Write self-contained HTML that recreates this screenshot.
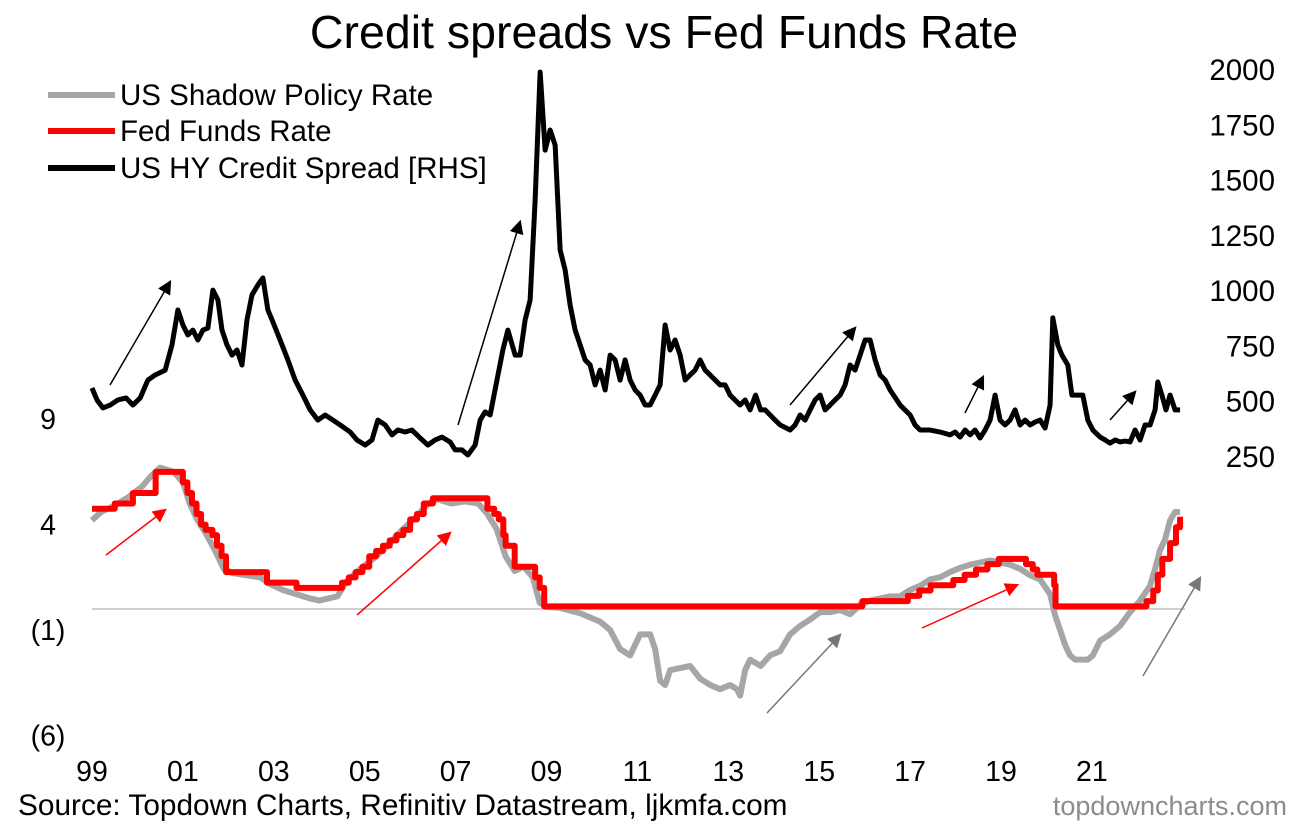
<!DOCTYPE html>
<html><head><meta charset="utf-8"><style>
body{margin:0;background:#fff;}
svg text{font-family:"Liberation Sans",Arial,sans-serif;}
</style></head><body>
<svg id="chart" width="1302" height="833" viewBox="0 0 1302 833" xmlns="http://www.w3.org/2000/svg">
<defs>
<marker id="ab" markerWidth="14" markerHeight="14" refX="10" refY="6" orient="auto" markerUnits="userSpaceOnUse" viewBox="0 0 12 12"><path d="M0,0L12,6L0,12z" fill="#000"/></marker>
<marker id="ar" markerWidth="14" markerHeight="14" refX="10" refY="6" orient="auto" viewBox="0 0 12 12" markerUnits="userSpaceOnUse"><path d="M0,0L12,6L0,12z" fill="#f00"/></marker>
<marker id="ag" markerWidth="14" markerHeight="14" refX="10" refY="6" orient="auto" viewBox="0 0 12 12" markerUnits="userSpaceOnUse"><path d="M0,0L12,6L0,12z" fill="#777"/></marker>
</defs>
<text x="664" y="48" font-size="46.5" text-anchor="middle">Credit spreads vs Fed Funds Rate</text>
<line x1="92" y1="609" x2="1185" y2="609" stroke="#d0d0d0" stroke-width="2"/>
<g id="left-ticks"></g><g id="right-ticks"></g><g id="x-ticks"></g>
<g id="series"></g>
<g>
<line x1="110" y1="385" x2="170" y2="282" stroke="#000" stroke-width="1.5" marker-end="url(#ab)"/>
<line x1="458" y1="425" x2="520" y2="222" stroke="#000" stroke-width="1.5" marker-end="url(#ab)"/>
<line x1="790" y1="405" x2="855" y2="328" stroke="#000" stroke-width="1.5" marker-end="url(#ab)"/>
<line x1="965" y1="413" x2="983" y2="377" stroke="#000" stroke-width="1.5" marker-end="url(#ab)"/>
<line x1="1110" y1="420" x2="1135" y2="392" stroke="#000" stroke-width="1.5" marker-end="url(#ab)"/>
<line x1="106" y1="555" x2="165" y2="510" stroke="#f00" stroke-width="1.5" marker-end="url(#ar)"/>
<line x1="357" y1="615" x2="450" y2="533" stroke="#f00" stroke-width="1.5" marker-end="url(#ar)"/>
<line x1="922" y1="628" x2="1017" y2="585" stroke="#f00" stroke-width="1.5" marker-end="url(#ar)"/>
<line x1="767" y1="713" x2="840" y2="635" stroke="#777" stroke-width="1.5" marker-end="url(#ag)"/>
<line x1="1143" y1="676" x2="1200" y2="578" stroke="#777" stroke-width="1.5" marker-end="url(#ag)"/>
</g>
<g>
<g><line x1="48" y1="95" x2="115" y2="95" stroke="#a6a6a6" stroke-width="6"/><text x="120" y="105" font-size="29.5">US Shadow Policy Rate</text></g>
<g><line x1="48" y1="131" x2="115" y2="131" stroke="#f00" stroke-width="6"/><text x="120" y="141" font-size="29.5">Fed Funds Rate</text></g>
<g><line x1="48" y1="168" x2="115" y2="168" stroke="#000" stroke-width="6"/><text x="120" y="178" font-size="29.5">US HY Credit Spread [RHS]</text></g>
</g>
<text x="18" y="815" font-size="29.8">Source: Topdown Charts, Refinitiv Datastream, ljkmfa.com</text>
<text x="1287" y="815" font-size="27" fill="#8c8c8c" text-anchor="end">topdowncharts.com</text>
</svg>
<script>
const spreadDates=[1999.00,1999.11,1999.24,1999.40,1999.57,1999.75,1999.90,2000.06,2000.23,2000.39,2000.61,2000.76,2000.89,2001.00,2001.11,2001.22,2001.33,2001.44,2001.55,2001.66,2001.77,2001.86,2001.97,2002.08,2002.19,2002.30,2002.41,2002.52,2002.65,2002.76,2002.87,2002.98,2003.14,2003.31,2003.47,2003.64,2003.80,2003.97,2004.13,2004.30,2004.46,2004.68,2004.83,2005.01,2005.16,2005.29,2005.45,2005.60,2005.73,2005.89,2006.04,2006.22,2006.39,2006.55,2006.70,2006.88,2006.99,2007.14,2007.27,2007.43,2007.54,2007.65,2007.76,2007.91,2008.04,2008.15,2008.31,2008.42,2008.53,2008.64,2008.75,2008.86,2008.97,2009.08,2009.19,2009.30,2009.41,2009.52,2009.63,2009.74,2009.85,2009.96,2010.07,2010.18,2010.29,2010.40,2010.51,2010.62,2010.73,2010.84,2010.95,2011.06,2011.17,2011.28,2011.39,2011.50,2011.61,2011.72,2011.83,2011.94,2012.05,2012.16,2012.27,2012.38,2012.49,2012.60,2012.71,2012.82,2012.93,2013.04,2013.26,2013.37,2013.48,2013.60,2013.71,2013.81,2013.92,2014.03,2014.14,2014.36,2014.47,2014.58,2014.69,2014.80,2014.91,2015.02,2015.13,2015.24,2015.35,2015.46,2015.57,2015.68,2015.79,2015.90,2016.01,2016.12,2016.23,2016.34,2016.45,2016.56,2016.78,2017.00,2017.11,2017.22,2017.44,2017.66,2017.88,2017.99,2018.10,2018.21,2018.32,2018.43,2018.54,2018.65,2018.76,2018.87,2018.98,2019.09,2019.20,2019.31,2019.42,2019.53,2019.64,2019.75,2019.86,2019.97,2020.08,2020.14,2020.25,2020.34,2020.47,2020.56,2020.69,2020.80,2020.91,2021.02,2021.18,2021.29,2021.40,2021.51,2021.62,2021.73,2021.84,2021.95,2022.06,2022.17,2022.28,2022.39,2022.45,2022.54,2022.63,2022.72,2022.83,2022.94];
const spreadValues=[562,508,472,485,508,517,485,517,598,621,643,757,915,847,802,824,779,824,833,1005,960,824,757,711,734,666,870,983,1028,1060,915,861,779,689,598,530,463,417,440,417,395,363,327,304,327,417,395,350,372,363,372,336,304,327,340,318,282,282,259,304,417,454,440,598,734,824,711,711,870,960,1412,1991,1638,1729,1661,1186,1096,937,824,757,689,666,576,643,553,711,689,598,689,598,553,530,485,485,530,576,847,734,779,711,598,621,643,689,643,621,598,576,576,530,485,508,463,530,463,463,440,417,395,372,395,440,417,463,508,530,463,485,508,530,576,666,643,711,779,779,689,621,598,553,485,440,395,372,372,363,350,363,340,372,350,372,336,372,417,530,417,395,417,463,395,417,395,408,417,381,485,879,757,711,666,530,530,530,417,372,340,327,313,327,318,322,318,372,327,395,395,463,589,530,463,530,463,463];
const fedDates=[1999.00,1999.50,1999.90,2000.40,2001.00,2001.10,2001.20,2001.30,2001.40,2001.50,2001.65,2001.75,2001.85,2001.95,2002.85,2003.50,2004.50,2004.65,2004.80,2004.95,2005.10,2005.25,2005.40,2005.55,2005.70,2005.85,2006.00,2006.15,2006.30,2006.50,2007.70,2007.85,2007.95,2008.05,2008.10,2008.30,2008.75,2008.85,2008.95,2015.95,2016.95,2017.20,2017.45,2017.95,2018.20,2018.45,2018.70,2018.95,2019.55,2019.70,2019.80,2020.17,2020.20,2022.20,2022.35,2022.45,2022.55,2022.72,2022.85,2022.94];
const fedValues=[4.75,5.0,5.5,6.5,6.0,5.5,5.0,4.5,4.0,3.75,3.5,3.0,2.5,1.75,1.25,1.0,1.25,1.5,1.75,2.0,2.5,2.75,3.0,3.25,3.5,3.75,4.25,4.5,5.0,5.25,4.75,4.5,4.25,3.5,3.0,2.0,1.5,1.0,0.125,0.375,0.625,0.875,1.125,1.375,1.625,1.875,2.125,2.375,2.125,1.875,1.625,1.125,0.125,0.375,0.875,1.625,2.375,3.125,3.875,4.375];
const shadowDates=[1999.0,1999.2,1999.5,1999.8,2000.1,2000.3,2000.5,2000.8,2001.0,2001.15,2001.3,2001.5,2001.7,2001.9,2002.1,2002.4,2002.7,2002.9,2003.2,2003.5,2003.8,2004.0,2004.2,2004.4,2004.6,2004.9,2005.2,2005.5,2005.8,2006.1,2006.4,2006.6,2006.9,2007.2,2007.5,2007.7,2007.9,2008.1,2008.3,2008.5,2008.7,2008.85,2009.0,2009.30,2009.74,2010.18,2010.40,2010.62,2010.84,2011.06,2011.28,2011.39,2011.50,2011.61,2011.72,2011.94,2012.16,2012.38,2012.60,2012.82,2013.04,2013.19,2013.26,2013.37,2013.48,2013.71,2013.92,2014.14,2014.36,2014.58,2014.80,2015.02,2015.24,2015.46,2015.68,2015.90,2016.12,2016.34,2016.56,2016.78,2017.00,2017.22,2017.44,2017.66,2017.88,2018.10,2018.32,2018.54,2018.76,2018.98,2019.20,2019.42,2019.64,2019.86,2020.08,2020.19,2020.30,2020.41,2020.52,2020.63,2020.91,2021.02,2021.18,2021.40,2021.62,2021.84,2022.06,2022.28,2022.39,2022.50,2022.61,2022.72,2022.83,2022.94];
const shadowValues=[4.2,4.6,4.9,5.3,5.8,6.3,6.7,6.5,6.0,5.0,4.3,3.6,2.8,1.9,1.7,1.6,1.5,1.2,0.9,0.7,0.5,0.4,0.5,0.6,1.3,1.9,2.4,3.0,3.7,4.3,5.0,5.2,5.0,5.1,5.0,4.5,3.8,2.5,1.8,2.0,1.5,0.3,0.1,0.05,-0.2,-0.6,-1.0,-1.9,-2.2,-1.2,-1.2,-1.9,-3.4,-3.6,-2.9,-2.8,-2.7,-3.3,-3.6,-3.8,-3.6,-3.8,-4.1,-2.9,-2.4,-2.7,-2.2,-2.0,-1.2,-0.8,-0.5,-0.15,-0.15,-0.05,-0.25,0.2,0.4,0.5,0.6,0.6,0.9,1.1,1.4,1.5,1.75,1.95,2.1,2.2,2.3,2.2,2.1,1.9,1.6,1.4,0.7,-0.3,-1.0,-1.7,-2.2,-2.4,-2.4,-2.2,-1.5,-1.2,-0.8,-0.15,0.4,1.1,1.9,2.8,3.3,4.2,4.6,4.6];
const leftTicks=[9,4,-1,-6];
const leftTickLabels=["9","4","(1)","(6)"];
const rightTicks=[250,500,750,1000,1250,1500,1750,2000];
const xTickYears=[1999,2001,2003,2005,2007,2009,2011,2013,2015,2017,2019,2021];
const xTickLabels=["99","01","03","05","07","09","11","13","15","17","19","21"];

const NS="http://www.w3.org/2000/svg";
const xS=y=>92+(y-1999)*45.45;
const yL=v=>609-v*21.1;
const yR=v=>457-(v-250)*0.2211;
function mk(tag,attrs,parent){const e=document.createElementNS(NS,tag);for(const k in attrs)e.setAttribute(k,attrs[k]);parent.appendChild(e);return e;}
const lt=document.getElementById('left-ticks');
leftTicks.forEach((v,i)=>{const t=mk('text',{x:48,y:yL(v)+10,'font-size':28.5,'text-anchor':'middle'},lt);t.textContent=leftTickLabels[i];

});
const rt=document.getElementById('right-ticks');
rightTicks.forEach(v=>{const t=mk('text',{x:1275,y:yR(v)+10,'font-size':29.5,'text-anchor':'end'},rt);t.textContent=v;

});
const xt=document.getElementById('x-ticks');
xTickYears.forEach((v,i)=>{const t=mk('text',{x:xS(v),y:781,'font-size':28.5,'text-anchor':'middle'},xt);t.textContent=xTickLabels[i];

});
const sg=document.getElementById('series');
function poly(d,v,yf,color,w,step,name){let pts=[];for(let i=0;i<d.length;i++){if(step&&i>0)pts.push(xS(d[i])+','+yf(v[i-1]));pts.push(xS(d[i])+','+yf(v[i]));}
const p=mk('polyline',{points:pts.join(' '),fill:'none',stroke:color,'stroke-width':w,'stroke-linejoin':'round'},sg);

}
poly(shadowDates,shadowValues,yL,'#a6a6a6',6,false,'shadow-rate-line');
poly(fedDates,fedValues,yL,'#ff0000',6,true,'fed-funds-line');
poly(spreadDates,spreadValues,yR,'#000000',5,false,'hy-spread-line');
</script>
</body></html>
